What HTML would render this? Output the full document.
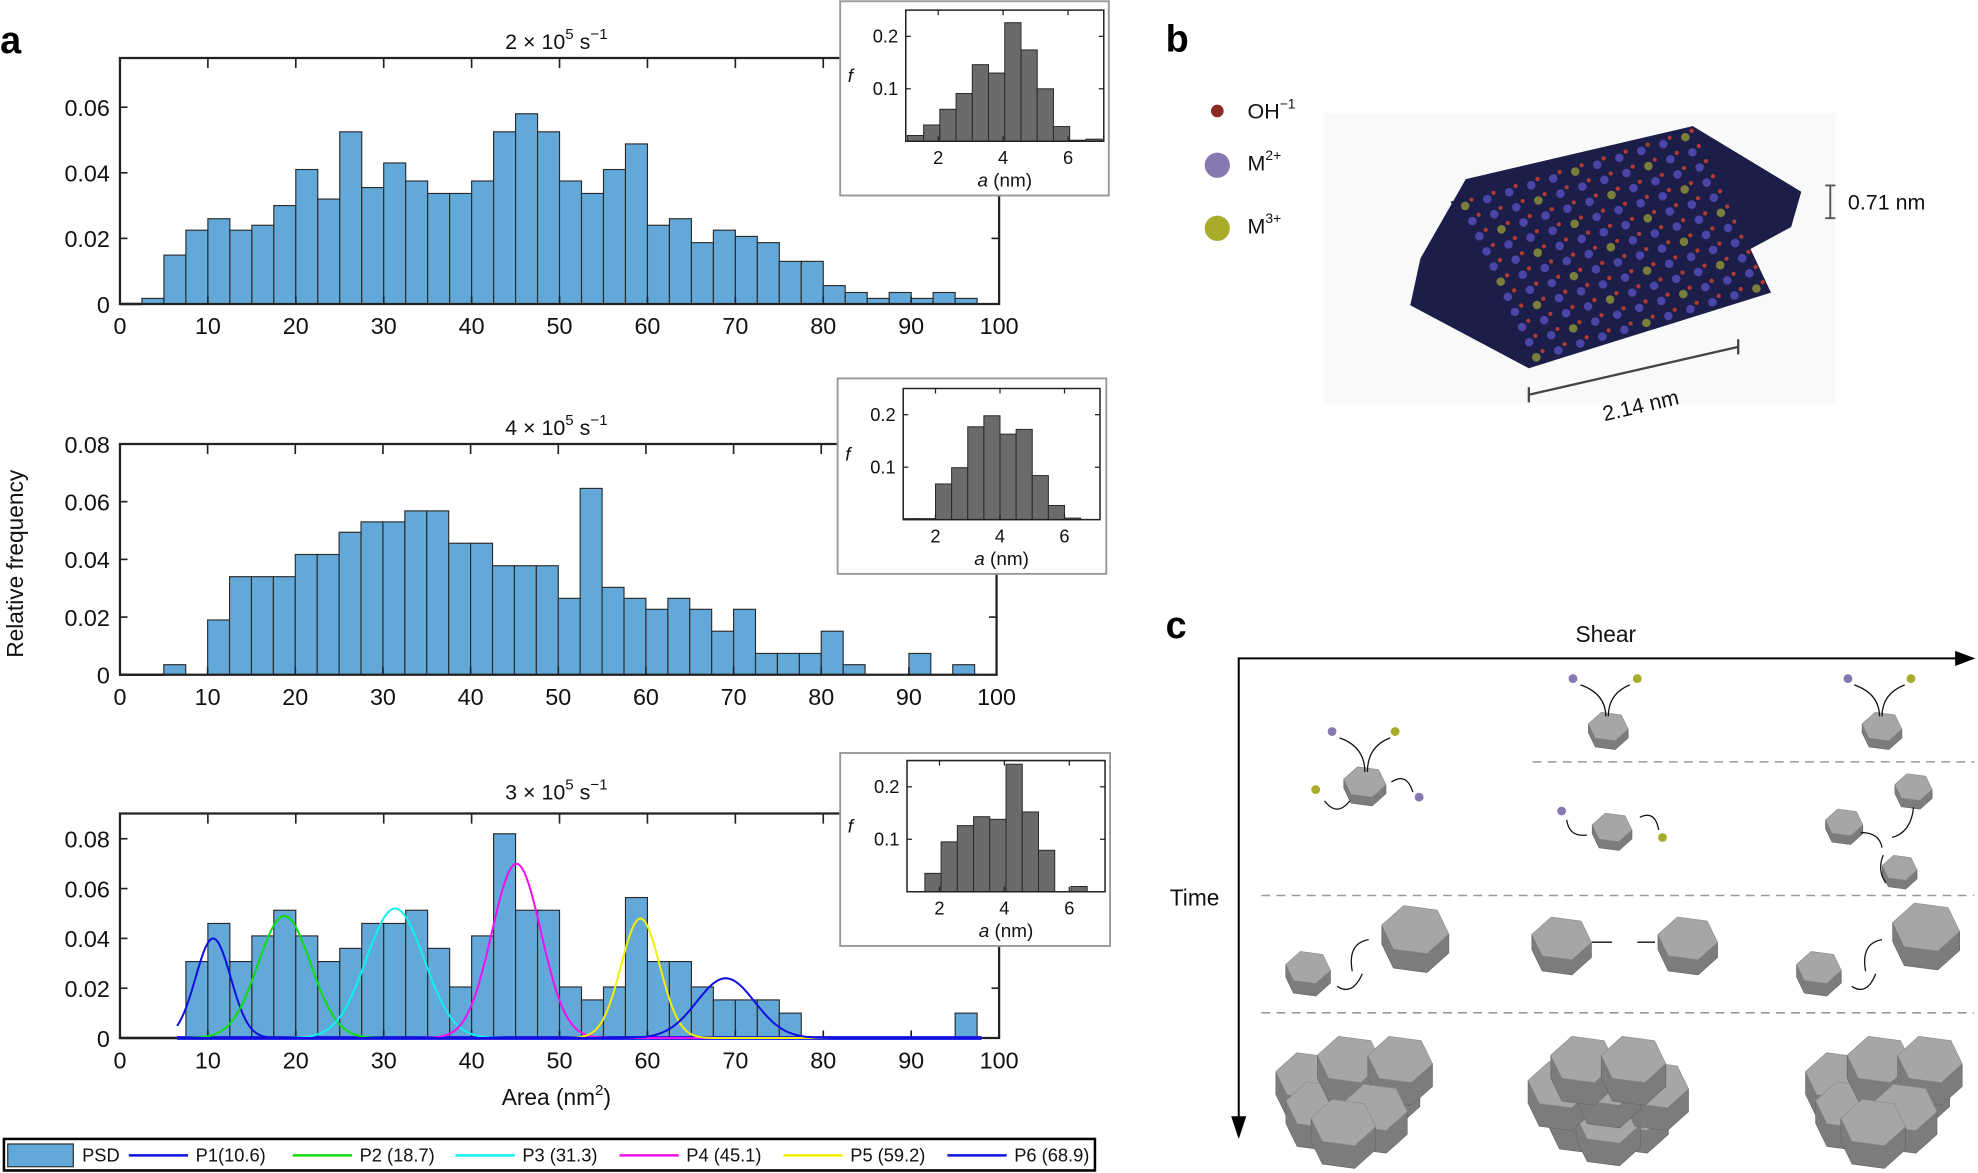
<!DOCTYPE html>
<html><head><meta charset="utf-8"><style>
html,body{margin:0;padding:0;background:#fff;}
svg{display:block;font-family:"Liberation Sans",Arial,sans-serif;}
</style></head><body>
<svg id="fig" width="1978" height="1173" viewBox="0 0 1568 930" xmlns="http://www.w3.org/2000/svg">
<g id="left"></g>
<g id="right"></g>
</svg>
<script>
// ---- Data: main histograms (bin width 2.5) ----
const binWidth = 2.5;
const hist1Start = 2.5;
const hist1Values = [0.0017,0.0149,0.0225,0.026,0.0225,0.024,0.030,0.041,0.032,0.0525,0.0355,0.043,0.0375,0.0337,0.0337,0.0375,0.0525,0.058,0.0525,0.0375,0.0337,0.041,0.0488,0.024,0.026,0.0187,0.0225,0.0206,0.0187,0.013,0.013,0.0056,0.0035,0.0017,0.0035,0.0017,0.0035,0.0017];
const hist2Start = 5;
const hist2Values = [0.0035,0,0.019,0.034,0.034,0.034,0.0417,0.0417,0.0494,0.053,0.053,0.0568,0.0568,0.0456,0.0456,0.0378,0.0378,0.0378,0.0265,0.0646,0.0303,0.0265,0.0227,0.0265,0.0227,0.0151,0.0227,0.0074,0.0074,0.0074,0.0151,0.0035,0,0,0.0074,0,0.0035];
const hist3Start = 7.5;
const hist3Values = [0.0307,0.046,0.0307,0.041,0.0513,0.041,0.0307,0.036,0.046,0.046,0.0513,0.036,0.0205,0.041,0.082,0.0513,0.0513,0.0205,0.0153,0.0205,0.0564,0.0307,0.0307,0.0205,0.0153,0.0153,0.0153,0.010,0,0,0,0,0,0,0,0.010];
// ---- Data: Gaussian peak fits ----
const peakNames = ["P1(10.6)","P2 (18.7)","P3 (31.3)","P4 (45.1)","P5 (59.2)","P6 (68.9)"];
const peakCenters = [10.6,18.7,31.3,45.1,59.2,68.9];
const peakHeights = [0.040,0.049,0.052,0.070,0.048,0.024];
const peakSigmas = [2.0,3.0,3.3,2.8,2.2,3.3];
const peakColors = ["#1010e0","#10dd10","#10f0f0","#f010f0","#f0f000","#1010e0"];
// ---- Data: insets (bin width 0.5 nm) ----
const insetBin = 0.5;
const inset1Start = 1.05;
const inset1Values = [0.011,0.031,0.061,0.091,0.146,0.13,0.226,0.174,0.1,0.028,0.002,0.004];
const inset2Start = 1.0;
const inset2Values = [0.002,0.002,0.068,0.099,0.177,0.198,0.163,0.172,0.084,0.027,0.003];
const inset3Start = 1.55;
const inset3Values = [0.035,0.095,0.126,0.143,0.138,0.243,0.152,0.079,0,0.01];
// ---- Tick labels ----
const xTickValues = [0,10,20,30,40,50,60,70,80,90,100];
const yTicks1 = [0,0.02,0.04,0.06];
const yTicks23 = [0,0.02,0.04,0.06,0.08];
const insetXTicks = [2,4,6];
const insetYTicks = [0.1,0.2];

const NS="http://www.w3.org/2000/svg";
function mk(parent,tag,attrs,text){const e=document.createElementNS(NS,tag);for(const k in attrs)e.setAttribute(k,attrs[k]);if(text!==undefined)e.textContent=text;parent.appendChild(e);return e;}
const L=document.getElementById('left');
const R=document.getElementById('right');

function fmt(v){return v===0?"0":v.toFixed(2);}

function panel(cfg,name){
  const g=mk(L,'g',{});
  
  
  const sx=v=>cfg.x0+v*(cfg.x1-cfg.x0)/100;
  const sy=v=>cfg.base-v*cfg.ppu;
  cfg.values.forEach((v,i)=>{
    const a=cfg.start+i*binWidth;
    if(v<=0){return;}
    const r=mk(g,'rect',{x:sx(a),y:sy(v),width:sx(a+binWidth)-sx(a),height:sy(0)-sy(v),fill:'#62a8d8',stroke:'#2a2a2a','stroke-width':0.9});
    
    
  });
  const ax=mk(g,'path',{d:`M${cfg.x0},${cfg.top}H${cfg.x1}V${cfg.base}H${cfg.x0}Z`,fill:'none',stroke:'#222','stroke-width':1.8});
  
  
  mk(g,'line',{x1:sx(0),x2:sx(cfg.start),y1:cfg.base,y2:cfg.base,stroke:'#222','stroke-width':2});
  xTickValues.forEach(t=>{
    const x=sx(t);
    mk(g,'line',{x1:x,x2:x,y1:cfg.base,y2:cfg.base-6,stroke:'#222','stroke-width':1.3});
    mk(g,'line',{x1:x,x2:x,y1:cfg.top,y2:cfg.top+8,stroke:'#222','stroke-width':1.3});
    const t1=mk(g,'text',{x:x,y:cfg.base+24,'font-size':18.5,'text-anchor':'middle',fill:'#111'},String(t));
    
    
  });
  cfg.yticks.forEach(t=>{
    const y=sy(t);
    mk(g,'line',{x1:cfg.x0,x2:cfg.x0+6,y1:y,y2:y,stroke:'#222','stroke-width':1.3});
    mk(g,'line',{x1:cfg.x1,x2:cfg.x1-6,y1:y,y2:y,stroke:'#222','stroke-width':1.3});
    const t2=mk(g,'text',{x:cfg.x0-8,y:y+7,'font-size':18.5,'text-anchor':'end',fill:'#111'},fmt(t));
    
    
  });
  const ti=mk(g,'text',{x:441,y:cfg.titleY,'font-size':17,'text-anchor':'middle',fill:'#111'});
  
  
  ti.innerHTML=cfg.title+' × 10<tspan dy="-8" font-size="12">5</tspan><tspan dy="8"> s</tspan><tspan dy="-8" font-size="12">−1</tspan>';
  return {g,sx,sy};
}

function inset(cfg,name){
  const g=mk(L,'g',{});
  
  
  mk(g,'rect',{x:cfg.bx,y:cfg.by,width:cfg.bw,height:cfg.bh,fill:'#fff',stroke:'#999','stroke-width':1.5});
  const ix=v=>cfg.x0+(v-1)*(cfg.x1-cfg.x0)/6.1;
  const iy=v=>cfg.y0-v*(cfg.y0-cfg.y1)/0.25;
  cfg.values.forEach((v,i)=>{
    const a=cfg.start+i*insetBin;
    if(v<=0)return;
    const r=mk(g,'rect',{x:ix(a),y:iy(v),width:ix(a+insetBin)-ix(a),height:iy(0)-iy(v),fill:'#6b6b6b',stroke:'#2a2a2a','stroke-width':0.8});
    
    
  });
  mk(g,'path',{d:`M${cfg.x0},${cfg.y1}H${cfg.x1}V${cfg.y0}H${cfg.x0}Z`,fill:'none',stroke:'#222','stroke-width':1.2});
  insetXTicks.forEach(t=>{
    const x=ix(t);
    mk(g,'line',{x1:x,x2:x,y1:cfg.y0,y2:cfg.y0-4,stroke:'#222'});
    mk(g,'line',{x1:x,x2:x,y1:cfg.y1,y2:cfg.y1+4,stroke:'#222'});
    mk(g,'text',{x:x,y:cfg.y0+18,'font-size':14.5,'text-anchor':'middle',fill:'#111'},String(t));
  });
  insetYTicks.forEach(t=>{
    const y=iy(t);
    mk(g,'line',{x1:cfg.x0,x2:cfg.x0+4,y1:y,y2:y,stroke:'#222'});
    mk(g,'line',{x1:cfg.x1,x2:cfg.x1-4,y1:y,y2:y,stroke:'#222'});
    mk(g,'text',{x:cfg.x0-6,y:y+5,'font-size':14.5,'text-anchor':'end',fill:'#111'},String(t));
  });
  mk(g,'text',{x:cfg.bx+6,y:iy(0.125)+5,'font-size':15,'font-style':'italic',fill:'#111'},'f');
  const xl=mk(g,'text',{x:(cfg.x0+cfg.x1)/2,y:cfg.y0+36,'font-size':15,'text-anchor':'middle',fill:'#111'});
  xl.innerHTML='<tspan font-style="italic">a</tspan> (nm)';
}

const p1=panel({x0:95,x1:792,base:241,ppu:2600,top:46,start:hist1Start,values:hist1Values,yticks:yTicks1,titleY:39,title:'2'},'histogram-2e5');
const p2=panel({x0:95,x1:790,base:535,ppu:2287.5,top:352,start:hist2Start,values:hist2Values,yticks:yTicks23,titleY:345,title:'4'},'histogram-4e5');
const p3=panel({x0:95,x1:792,base:823,ppu:1975,top:645,start:hist3Start,values:hist3Values,yticks:yTicks23,titleY:634,title:'3'},'histogram-3e5');

(function(){
  const g=mk(L,'g',{});
  
  
  mk(g,'line',{x1:p3.sx(6.5),x2:p3.sx(98),y1:p3.sy(0),y2:p3.sy(0),stroke:'#1010e0','stroke-width':3});
  peakCenters.forEach((c,k)=>{
    let d='';
    for(let x=6.5;x<=98;x+=0.25){
      const y=peakHeights[k]*Math.exp(-((x-c)**2)/(2*peakSigmas[k]**2));
      d+=(d?'L':'M')+p3.sx(x).toFixed(2)+','+p3.sy(y).toFixed(2);
    }
    const p=mk(g,'path',{d:d,fill:'none',stroke:peakColors[k],'stroke-width':1.6});
    
    
  });
})();

inset({bx:666,by:1,bw:213,bh:154,x0:718,x1:875,y0:112,y1:8,start:inset1Start,values:inset1Values},'inset-2e5');
inset({bx:664,by:300,bw:213,bh:155,x0:716,x1:872,y0:412,y1:308,start:inset2Start,values:inset2Values},'inset-4e5');
inset({bx:666,by:597,bw:214,bh:153,x0:719,x1:876,y0:707,y1:603,start:inset3Start,values:inset3Values},'inset-3e5');

(function(){
  const a=mk(L,'text',{x:0,y:42,'font-size':30,'font-weight':'bold',fill:'#000'},'a');
  
  const yl=mk(L,'text',{x:18,y:447,'font-size':18,'text-anchor':'middle',transform:'rotate(-90 18 447)',fill:'#111'},'Relative frequency');
  
  const xl=mk(L,'text',{x:441,y:876,'font-size':18,'text-anchor':'middle',fill:'#111'});
  
  xl.innerHTML='Area (nm<tspan dy="-8" font-size="12">2</tspan><tspan dy="8">)</tspan>';
  const lg=mk(L,'g',{});
  
  mk(lg,'rect',{x:3,y:903,width:865,height:25,fill:'#fff',stroke:'#000','stroke-width':2});
  mk(lg,'rect',{x:6,y:907,width:52,height:18,fill:'#62a8d8',stroke:'#333','stroke-width':1});
  mk(lg,'text',{x:65,y:921,'font-size':14.5,fill:'#111'},'PSD');
  const lx=[102,232,361,491,621,751];
  peakNames.forEach((n,k)=>{
    const e=mk(lg,'g',{});
    
    mk(e,'line',{x1:lx[k],x2:lx[k]+47,y1:916,y2:916,stroke:peakColors[k],'stroke-width':2});
    mk(e,'text',{x:lx[k]+53,y:921,'font-size':14.5,fill:'#111'},n);
  });
})();

// ---- Panel b ----
(function(){
  const b=mk(R,'text',{x:924,y:41,'font-size':30,'font-weight':'bold',fill:'#000'},'b');
  
  const lg=mk(R,'g',{});
  
  mk(lg,'circle',{cx:965,cy:88,r:5,fill:'#8a2a22'});
  mk(lg,'circle',{cx:965,cy:131,r:10,fill:'#8878b0'});
  mk(lg,'circle',{cx:965,cy:181,r:10,fill:'#a8ac2a'});
  const t1=mk(lg,'text',{x:989,y:94,'font-size':17,fill:'#111'});t1.innerHTML='OH<tspan dy="-8" font-size="11">−1</tspan>';
  const t2=mk(lg,'text',{x:989,y:135,'font-size':17,fill:'#111'});t2.innerHTML='M<tspan dy="-8" font-size="11">2+</tspan>';
  const t3=mk(lg,'text',{x:989,y:185,'font-size':17,fill:'#111'});t3.innerHTML='M<tspan dy="-8" font-size="11">3+</tspan>';
  const s=mk(R,'g',{});
  
  mk(s,'rect',{x:1050,y:90,width:405,height:230,fill:'#f9f9f9'});
  // parallelogram A(top-left) B(top-right) C(bottom-right) D(bottom-left)
  const A=[1150,160],B=[1342,100],D=[1212,292];
  const C=[B[0]+D[0]-A[0],B[1]+D[1]-A[1]];
  mk(s,'polygon',{points:`1162,142 ${B} 1428,152 1420,180 ${D} 1118,242 1126,205`,fill:'#1a1e48'});
  mk(s,'polygon',{points:`${A} ${B} ${C} ${D}`,fill:'#1a1e48'});
  const n=11;
  for(let i=0;i<n;i++){for(let j=0;j<n;j++){
    const u=(i+0.5)/n,v=(j+0.5)/n;
    const x=A[0]+u*(B[0]-A[0])+v*(D[0]-A[0])+ (i%2?0:0);
    const y=A[1]+u*(B[1]-A[1])+v*(D[1]-A[1]);
    mk(s,'circle',{cx:x,cy:y,r:3.4,fill:((i*3+j)%5===0)?'#7a7e3a':'#4a46a8'});
    mk(s,'circle',{cx:x+5,cy:y-5,r:1.7,fill:'#b03a30'});
  }}
  mk(s,'path',{d:'M1451,147V173M1447,147H1455M1447,173H1455',stroke:'#555','stroke-width':1.5,fill:'none'});
  mk(s,'text',{x:1465,y:166,'font-size':17,fill:'#111'},'0.71 nm');
  mk(s,'path',{d:'M1212,313L1378,275M1212,307V319M1378,269V281',stroke:'#444','stroke-width':1.8,fill:'none'});
  mk(s,'text',{x:1272,y:334,'font-size':17,fill:'#111',transform:'rotate(-13 1272 334)'},'2.14 nm');
})();

// ---- Panel c ----
function hex(g,cx,cy,r,th){
  let top=[];
  for(let k=0;k<6;k++){const a=Math.PI/180*(60*k+10);top.push([cx+r*Math.cos(a),cy+r*0.75*Math.sin(a)]);}
  const side=top.map(p=>[p[0],p[1]+th]);
  mk(g,'polygon',{points:[top[0],top[1],top[2],top[3],side[3],side[2],side[1],side[0]].map(p=>p.join(',')).join(' '),fill:'#7c7c7c',stroke:'#666','stroke-width':0.5});
  mk(g,'polygon',{points:top.map(p=>p.join(',')).join(' '),fill:'#a6a6a6',stroke:'#8a8a8a','stroke-width':0.5});
}
(function(){
  const c=mk(R,'text',{x:924,y:506,'font-size':30,'font-weight':'bold',fill:'#000'},'c');
  
  const g=mk(R,'g',{});
  
  mk(g,'text',{x:1273,y:509,'font-size':18,'text-anchor':'middle',fill:'#111'},'Shear');
  mk(g,'text',{x:947,y:718,'font-size':18,'text-anchor':'middle',fill:'#111'},'Time');
  mk(g,'path',{d:'M982,900V522H1552',stroke:'#000','stroke-width':1.6,fill:'none'});
  mk(g,'polygon',{points:'1566,522 1550,516 1550,528',fill:'#000'});
  mk(g,'polygon',{points:'982,903 976,885 988,885',fill:'#000'});
  [[1215,604],[1000,710],[1000,803]].forEach(([x,y])=>mk(g,'line',{x1:x,x2:1565,y1:y,y2:y,stroke:'#999','stroke-width':1.2,'stroke-dasharray':'7,5'}));
  [[1082,620,17,7],[1275,576,16,7],[1492,576,16,7],[1278,656,16,7],[1517,624,15,7],[1462,652,15,7],[1506,688,14,7],[1037,767,18,10],[1122,737,27,15],[1238,744,24,12],[1338,744,24,12],[1442,767,18,10],[1527,735,27,15]].forEach(h=>hex(g,...h));
  [[1056,580,'#8878b0'],[1106,580,'#a8ac2a'],[1043,626,'#a8ac2a'],[1125,632,'#8878b0'],[1247,538,'#8878b0'],[1298,538,'#a8ac2a'],[1465,538,'#8878b0'],[1515,538,'#a8ac2a'],[1238,643,'#8878b0'],[1318,664,'#a8ac2a']].forEach(([x,y,f])=>mk(g,'circle',{cx:x,cy:y,r:3.5,fill:f}));
  ['M1062,585Q1082,592 1082,612','M1102,585Q1084,592 1084,612','M1253,543Q1273,550 1273,568','M1292,543Q1275,550 1275,568','M1470,543Q1490,550 1490,568','M1510,543Q1492,550 1492,568','M1050,635Q1060,648 1070,635','M1120,628Q1115,612 1103,620','M1242,650Q1244,664 1258,662','M1315,658Q1312,642 1300,648','M1262,747L1278,747','M1298,747L1312,747','M1085,745Q1068,748 1072,770','M1060,782Q1072,790 1080,772','M1492,745Q1475,748 1479,770','M1468,782Q1480,790 1487,772','M1475,660Q1490,660 1492,672','M1517,640Q1515,660 1500,664','M1495,700Q1488,690 1493,678'].forEach(d=>mk(g,'path',{d:d,stroke:'#111','stroke-width':1,fill:'none'}));
  [[1075,858],[1275,860],[1495,858]].forEach(([cx,cy],n)=>{
    const offs=n===1?[[-22,18],[22,18],[0,28],[-38,0],[38,0],[0,-2],[-20,-20],[20,-20]]:[[-38,-5],[-30,18],[25,-2],[-5,-18],[35,-18],[15,20],[-10,32]];
    offs.forEach(([dx,dy])=>hex(g,cx+dx,cy+dy,26,18));
  });
})();
</script>
</body></html>
